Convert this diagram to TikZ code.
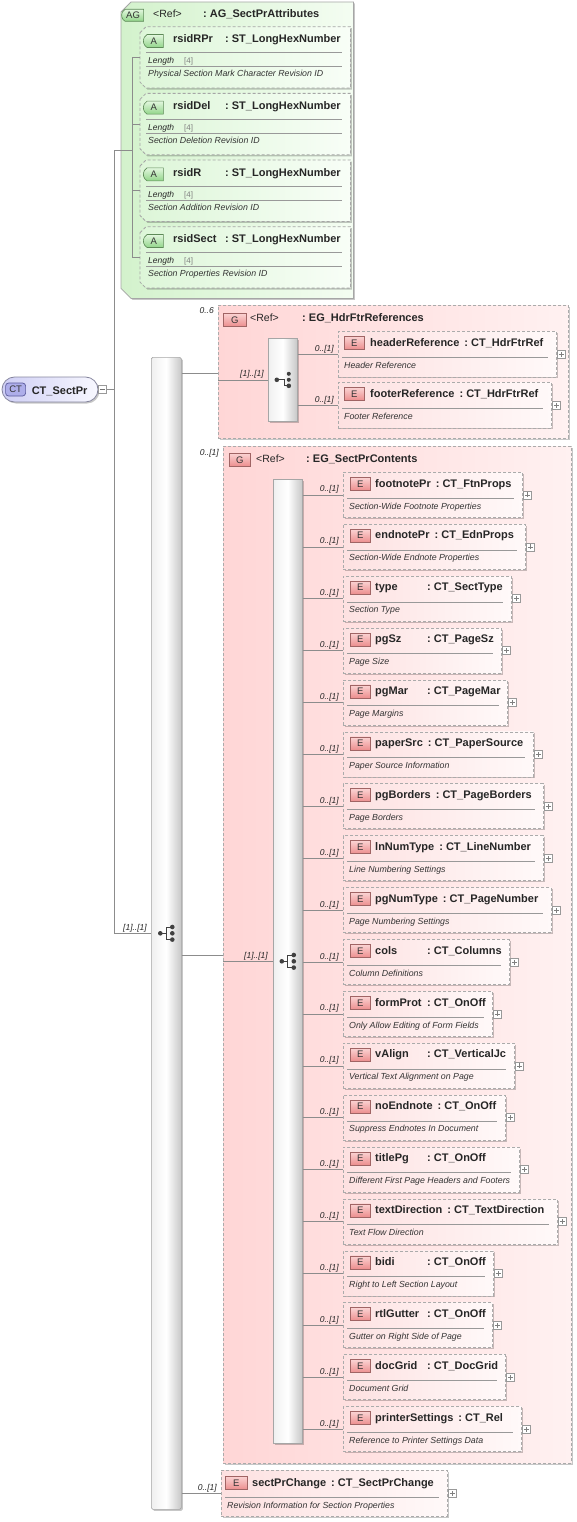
\documentclass[tikz,border=0pt]{standalone}
\usepackage{fontspec}
\setmainfont{Liberation Sans}
\usetikzlibrary{positioning, calc, shapes.misc, shadows}

\definecolor{agL}{HTML}{D3F2CC}
\definecolor{agR}{HTML}{F4FDF2}
\definecolor{atL}{HTML}{DDF6D8}
\definecolor{atR}{HTML}{F8FEF7}
\definecolor{abT}{HTML}{E2F7DE}
\definecolor{abB}{HTML}{92D58A}
\definecolor{abD}{HTML}{5E8A58}
\definecolor{grL}{HTML}{FFD6D6}
\definecolor{grR}{HTML}{FFF1F1}
\definecolor{elL}{HTML}{FDE1E1}
\definecolor{elR}{HTML}{FFF9F9}
\definecolor{ebT}{HTML}{FBD3D3}
\definecolor{ebB}{HTML}{EC8E8E}
\definecolor{ebD}{HTML}{A06464}
\definecolor{ctL}{HTML}{CFCFF5}
\definecolor{ctR}{HTML}{F8F8FF}
\definecolor{ctB}{HTML}{AEAEEA}
\definecolor{ctD}{HTML}{5A5A9C}

% name padded to a common width, then the type
\newcommand{\xsdname}[2]{\setbox0\hbox{#1}\ifdim\wd0<47pt\makebox[47pt][l]{#1}\else#1\fi\hspace{5pt}:\ #2}

\begin{document}
\begin{tikzpicture}[
    x=1pt, y=-1pt,
    font=\fontsize{9}{11}\selectfont,
    ln/.style={draw=black!45, line width=0.6pt},
    sepl/.style={draw=black!40, line width=0.6pt},
    ttl/.style={font=\fontsize{11}{13}\selectfont\bfseries, text=black!85,
                inner sep=0pt, anchor=base west},
    reft/.style={font=\fontsize{10.5}{12}\selectfont, text=black!85,
                 inner sep=0pt, anchor=base west},
    dsc/.style={font=\fontsize{8.8}{10}\selectfont\itshape, text=black!80,
                inner sep=0pt, anchor=base west},
    lenl/.style={font=\fontsize{8.5}{10}\selectfont\itshape, text=black!85,
                 inner sep=0pt, anchor=base west},
    facet/.style={font=\fontsize{8}{10}\selectfont, text=black!50,
                  inner sep=0pt, anchor=base west},
    card/.style={font=\fontsize{8.5}{10}\selectfont\itshape, text=black!85,
                 inner sep=0pt, anchor=base east},
    shd/.style={drop shadow={shadow xshift=1.5pt, shadow yshift=-1.5pt,
                opacity=0.22, fill=black}},
    frame/.style={rectangle, anchor=north west, inner sep=0pt},
    agline/.style={draw=black!35, line width=0.8pt, left color=agL, right color=agR, shd},
    attline/.style={draw=black!35, dash pattern=on 3pt off 2pt, line width=0.8pt,
                    left color=atL, right color=atR, shd},
    grp/.style={rectangle, draw=black!33, dash pattern=on 3pt off 2pt, line width=0.8pt,
                left color=grL, right color=grR, shd, anchor=north west, inner sep=0pt},
    elbox/.style={rectangle, draw=black!33, dash pattern=on 3pt off 2pt, line width=0.8pt,
                  left color=elL, right color=elR, shd, anchor=north west, inner sep=0pt},
    seqbar/.style={rectangle, rounded corners=1.5pt, draw=black!35, line width=0.6pt,
                   left color=black!6, right color=black!22, middle color=white,
                   shd, anchor=north west, inner sep=0pt},
    ebadge/.style={rectangle, draw=ebD, line width=0.6pt, top color=ebT, bottom color=ebB,
                   minimum width=20pt, minimum height=13pt, inner sep=0pt,
                   anchor=north west, font=\fontsize{9.5}{10}\selectfont, text=black!80},
    abadge/.style={rounded rectangle, rounded rectangle right arc=none,
                   rounded rectangle arc length=120,
                   draw=abD, line width=0.6pt, top color=abT, bottom color=abB,
                   minimum width=20pt, minimum height=13pt, inner sep=0pt,
                   anchor=north west, font=\fontsize{9.5}{10}\selectfont, text=black!80},
    ctpill/.style={rounded rectangle, draw=black!40!ctD!60, line width=0.8pt,
                   left color=ctL, right color=ctR, shd,
                   minimum width=96pt, minimum height=25pt, inner sep=0pt},
    ctbadge/.style={rectangle, rounded corners=3pt, draw=ctD, line width=0.7pt, fill=ctB,
                    minimum width=20pt, minimum height=13pt, inner sep=0pt,
                    font=\fontsize{9.5}{10}\selectfont, text=black!80},
    pm/.style={rectangle, draw=black!40, line width=0.5pt, fill=white,
               minimum size=8pt, inner sep=0pt},
    pmminus/.style={pm, path picture={\draw[black!55, line width=0.5pt]
        ([xshift=-2.5pt]path picture bounding box.center) --
        ([xshift=2.5pt]path picture bounding box.center);}},
    pmplus/.style={pm, path picture={\draw[black!50, line width=0.5pt]
        ([xshift=-2.5pt]path picture bounding box.center) --
        ([xshift=2.5pt]path picture bounding box.center)
        ([yshift=-2.5pt]path picture bounding box.center) --
        ([yshift=2.5pt]path picture bounding box.center);}},
    seqicon/.pic={
        \draw[black!75, line width=1pt] (-6,0) -- (0,0) (0,-6.3) -- (0,6.3)
            (0,-6.3) -- (6,-6.3) (0,6.3) -- (6,6.3);
        \fill[black!75] (-6,0) circle (2.3pt) (6,-6.3) circle (2.3pt)
            (6,0) circle (2.3pt) (6,6.3) circle (2.3pt);
    },
    choiceicon/.pic={
        \draw[black!75, line width=1pt] (-6,0) -- (2,0) -- (2,6) -- (6,6);
        \fill[black!75] (-6,0) circle (2.3pt) (6,-6) circle (2pt)
            (6,0) circle (2pt) (6,6) circle (2.3pt);
    },
]
    \useasboundingbox (0,0) rectangle (577,1522);

    % trunk and spine x positions
    \coordinate (trk) at (114,0);
    \coordinate (spine) at (132,0);

    % root type
    \node[ctpill] (ct) at (50,389.5) {};
    \node[ctbadge] (ctb) at ([xshift=14pt]ct.west) {CT};
    \node[ttl] (ctt) at ([shift={(30,4.5)}]ct.west) {CT\_SectPr};
    \node[pmminus] (ctm) at ([xshift=4pt]ct.east) {};

    % attribute group
    \node[frame, minimum width=232pt, minimum height=296pt] (ag) at (121,2) {};
    \path[agline] ([yshift=-10pt]ag.north west) -- ([xshift=10pt]ag.north west)
        -- (ag.north east) -- (ag.south east) -- ([xshift=10pt]ag.south west)
        -- ([yshift=10pt]ag.south west) -- cycle;
    \node[abadge, minimum width=22pt, minimum height=12pt] (agb)
        at ([shift={(4,7)}]ag.north west) {AG};
    \node[reft] (agr) at ([shift={(32,15.5)}]ag.north west) {<Ref>};
    \node[ttl] (agn) at ([shift={(82,15.5)}]ag.north west) {:\ AG\_SectPrAttributes};

    \foreach \nm/\tx [count=\i] in {
        rsidRPr/Physical Section Mark Character Revision ID,
        rsidDel/Section Deletion Revision ID,
        rsidR/Section Addition Revision ID,
        rsidSect/Section Properties Revision ID}{
        \node[frame, minimum width=210pt, minimum height=61pt] (a\i)
            at (140, {26.7+(\i-1)*66.67}) {};
        \path[attline] ([yshift=-6pt]a\i.north west) -- ([xshift=6pt]a\i.north west)
            -- (a\i.north east) -- (a\i.south east) -- ([xshift=6pt]a\i.south west)
            -- ([yshift=6pt]a\i.south west) -- cycle;
        \node[abadge] (ab\i) at ([shift={(7,7.5)}]a\i.north west) {A};
        \node[ttl] (at\i) at ([shift={(33,16)}]a\i.north west) {\xsdname{\nm}{ST\_LongHexNumber}};
        \draw[sepl] ([shift={(6,26)}]a\i.north west) -- ([shift={(-8,26)}]a\i.north east);
        \node[lenl] (al\i) at ([shift={(8,37)}]a\i.north west) {Length};
        \node[facet] (af\i) at ([shift={(44,37)}]a\i.north west) {[4]};
        \draw[sepl] ([shift={(6,40)}]a\i.north west) -- ([shift={(-8,40)}]a\i.north east);
        \node[dsc] (ad\i) at ([shift={(8,50)}]a\i.north west) {\tx};
        \draw[ln] (spine |- a\i.west) -- (a\i.west);
    }

    % outer sequence
    \node[seqbar, minimum width=30pt, minimum height=1152pt] (seq1) at (151,357) {};
    \pic at (seq1.center) {seqicon};

    \draw[ln] (ctm.east) -- (ctm.east -| trk);
    \draw[ln] (trk |- ag.west) -- (trk |- seq1.west) -- (seq1.west);
    \draw[ln] (trk |- ag.west) -- (spine |- ag.west);
    \draw[ln] (spine |- a1.west) -- (spine |- a4.west);
    \node[card] (s1c) at ([shift={(-4,-3)}]seq1.west) {[1]..[1]};

    % group: header / footer references
    \node[grp, minimum width=350pt, minimum height=133pt] (g1) at (218,305) {};
    \node[card] (g1c) at ([shift={(-4,8)}]g1.north west) {0..6};
    \node[ebadge, minimum width=23pt] (g1b) at ([shift={(5,8)}]g1.north west) {G};
    \node[reft] (g1r) at ([shift={(32,16.5)}]g1.north west) {<Ref>};
    \node[ttl] (g1n) at ([shift={(84,16.5)}]g1.north west) {:\ EG\_HdrFtrReferences};
    \node[seqbar, rounded corners=0pt, minimum width=29pt, minimum height=83pt] (ch1) at (268,338) {};
    \pic at (ch1.center) {choiceicon};
    \draw[ln] ($(seq1.east |- ch1.west)+(0,-7)$) -- ($(g1.west |- ch1.west)+(0,-7)$);
    \draw[ln] (g1.west |- ch1.west) -- (ch1.west);
    \node[card] (ch1c) at ([shift={(-4,-3)}]ch1.west) {[1]..[1]};

    \foreach \nm/\tp/\tx/\w/\y [count=\i] in {
        headerReference/CT\_HdrFtrRef/Header Reference/218/331,
        footerReference/CT\_HdrFtrRef/Footer Reference/213/382}{
        \node[elbox, minimum width=\w pt, minimum height=45.5pt] (h\i) at (338,\y) {};
        \node[ebadge] (hb\i) at ([shift={(6,5)}]h\i.north west) {E};
        \node[ttl] (ht\i) at ([shift={(32,15)}]h\i.north west) {\xsdname{\nm}{\tp}};
        \draw[sepl] ([shift={(4,26)}]h\i.north west) -- ([shift={(-9,26)}]h\i.north east);
        \node[dsc] (hd\i) at ([shift={(6,37)}]h\i.north west) {\tx};
        \node[pmplus] (hp\i) at ([xshift=4.5pt]h\i.east) {};
        \draw[ln] (ch1.east |- h\i.west) -- (h\i.west);
        \node[card] (hc\i) at ([shift={(-4,-3)}]h\i.west) {0..[1]};
    }

    % group: section properties contents
    \node[grp, minimum width=348pt, minimum height=1017pt] (g2) at (223,446) {};
    \node[card] (g2c) at ([shift={(-4,9)}]g2.north west) {0..[1]};
    \node[ebadge, minimum width=21pt] (g2b) at ([shift={(6,7)}]g2.north west) {G};
    \node[reft] (g2r) at ([shift={(33,16)}]g2.north west) {<Ref>};
    \node[ttl] (g2n) at ([shift={(83,16)}]g2.north west) {:\ EG\_SectPrContents};
    \node[seqbar, rounded corners=0pt, minimum width=29pt, minimum height=964pt] (seq2) at (273,479) {};
    \pic at (seq2.center) {seqicon};
    \draw[ln] ($(seq1.east |- seq2.west)+(0,-6)$) -- ($(g2.west |- seq2.west)+(0,-6)$);
    \draw[ln] (g2.west |- seq2.west) -- (seq2.west);
    \node[card] (s2c) at ([shift={(-5,-3)}]seq2.west) {[1]..[1]};

    \foreach \nm/\tp/\tx/\w [count=\i] in {
        footnotePr/CT\_FtnProps/Section-Wide Footnote Properties/179,
        endnotePr/CT\_EdnProps/Section-Wide Endnote Properties/182,
        type/CT\_SectType/Section Type/168,
        pgSz/CT\_PageSz/Page Size/158,
        pgMar/CT\_PageMar/Page Margins/164,
        paperSrc/CT\_PaperSource/Paper Source Information/190,
        pgBorders/CT\_PageBorders/Page Borders/200,
        lnNumType/CT\_LineNumber/Line Numbering Settings/200,
        pgNumType/CT\_PageNumber/Page Numbering Settings/208,
        cols/CT\_Columns/Column Definitions/166,
        formProt/CT\_OnOff/Only Allow Editing of Form Fields/149,
        vAlign/CT\_VerticalJc/Vertical Text Alignment on Page/171,
        noEndnote/CT\_OnOff/Suppress Endnotes In Document/162,
        titlePg/CT\_OnOff/Different First Page Headers and Footers/176,
        textDirection/CT\_TextDirection/Text Flow Direction/214,
        bidi/CT\_OnOff/Right to Left Section Layout/150,
        rtlGutter/CT\_OnOff/Gutter on Right Side of Page/149,
        docGrid/CT\_DocGrid/Document Grid/162,
        printerSettings/CT\_Rel/Reference to Printer Settings Data/178}{
        \node[elbox, minimum width=\w pt, minimum height=45pt] (e\i) at (343, {472+(\i-1)*51.9}) {};
        \node[ebadge] (eb\i) at ([shift={(7,5)}]e\i.north west) {E};
        \node[ttl] (et\i) at ([shift={(32,15)}]e\i.north west) {\xsdname{\nm}{\tp}};
        \draw[sepl] ([shift={(4,26)}]e\i.north west) -- ([shift={(-9,26)}]e\i.north east);
        \node[dsc] (ed\i) at ([shift={(6,37)}]e\i.north west) {\tx};
        \node[pmplus] (ep\i) at ([xshift=4.5pt]e\i.east) {};
        \draw[ln] (seq2.east |- e\i.west) -- (e\i.west);
        \node[card] (ec\i) at ([shift={(-4,-3)}]e\i.west) {0..[1]};
    }

    % revision element
    \node[elbox, minimum width=226pt, minimum height=46pt] (sc) at (221,1470) {};
    \node[ebadge, minimum width=22pt] (scb) at ([shift={(4,6)}]sc.north west) {E};
    \node[ttl] (sct) at ([shift={(31,16)}]sc.north west) {\xsdname{sectPrChange}{CT\_SectPrChange}};
    \draw[sepl] ([shift={(4,27)}]sc.north west) -- ([shift={(-9,27)}]sc.north east);
    \node[dsc] (scd) at ([shift={(6,38)}]sc.north west) {Revision Information for Section Properties};
    \node[pmplus] (scp) at ([xshift=4.5pt]sc.east) {};
    \draw[ln] (seq1.east |- sc.west) -- (sc.west);
    \node[card] (scc) at ([shift={(-4,-3)}]sc.west) {0..[1]};
\end{tikzpicture}
\end{document}
